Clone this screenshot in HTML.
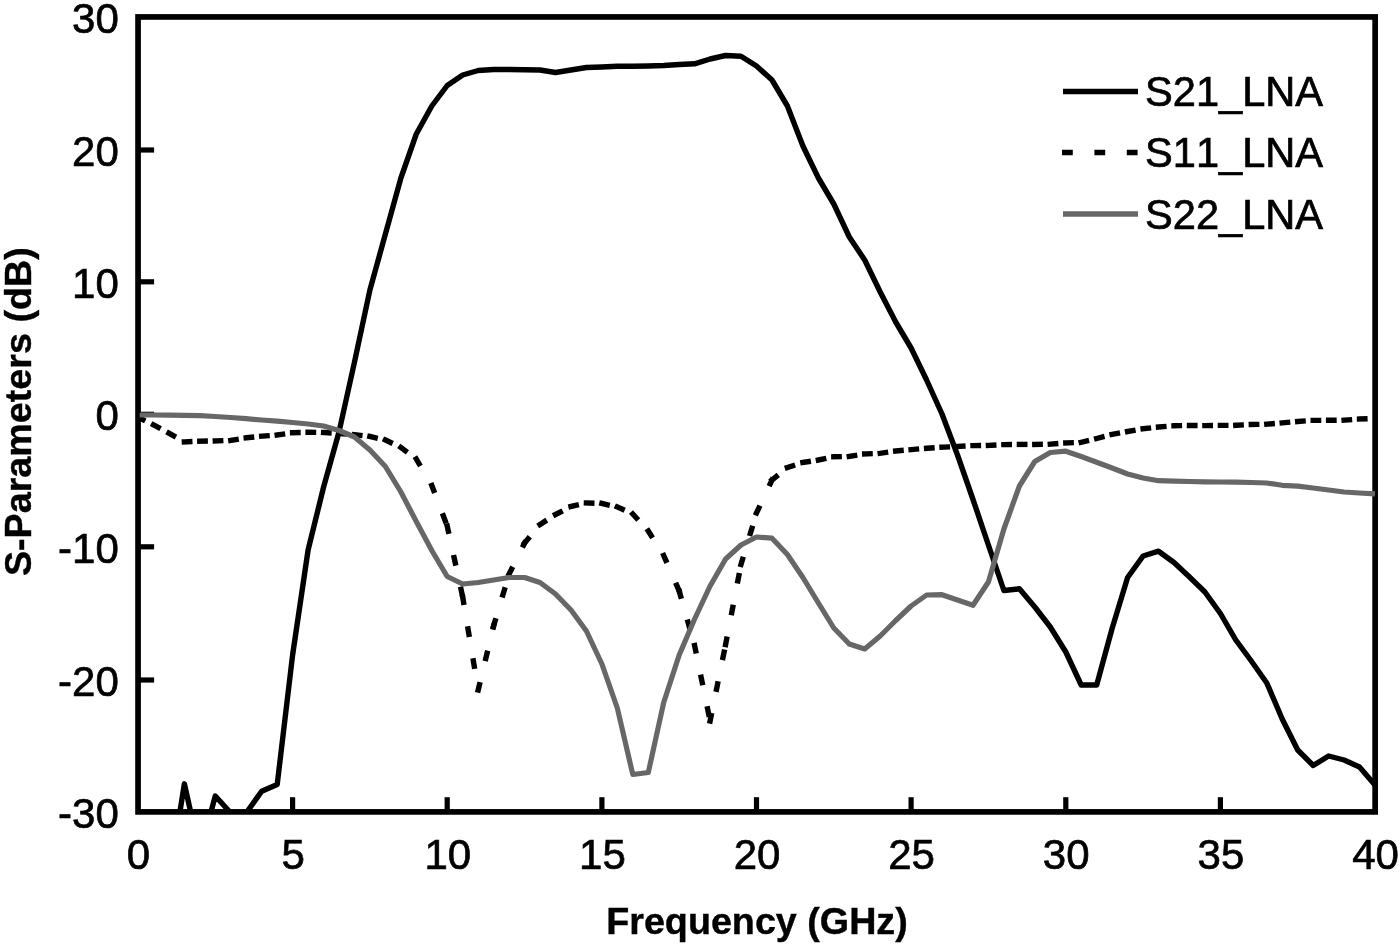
<!DOCTYPE html>
<html><head><meta charset="utf-8"><title>S-Parameters</title>
<style>html,body{margin:0;padding:0;background:#fff}svg{display:block}text{font-family:"Liberation Sans",Arial,sans-serif;fill:#000;font-kerning:none}</style></head><body>
<svg width="1400" height="946" viewBox="0 0 1400 946">
<rect width="1400" height="946" fill="#fff"/>
<defs><clipPath id="plot"><rect x="139.7" y="17" width="1236.5" height="794.5"/></clipPath></defs>
<rect x="138.05" y="16.95" width="1237.1" height="794.95" fill="none" stroke="#000" stroke-width="5.7"/>
<g stroke="#000" stroke-width="5.2">
<line x1="292.6" y1="811.5" x2="292.6" y2="797.2"/>
<line x1="447.2" y1="811.5" x2="447.2" y2="797.2"/>
<line x1="601.9" y1="811.5" x2="601.9" y2="797.2"/>
<line x1="756.5" y1="811.5" x2="756.5" y2="797.2"/>
<line x1="911.1" y1="811.5" x2="911.1" y2="797.2"/>
<line x1="1065.8" y1="811.5" x2="1065.8" y2="797.2"/>
<line x1="1220.4" y1="811.5" x2="1220.4" y2="797.2"/>
<line x1="138.0" y1="150.0" x2="154.1" y2="150.0"/>
<line x1="138.0" y1="281.8" x2="154.1" y2="281.8"/>
<line x1="138.0" y1="414.3" x2="154.1" y2="414.3"/>
<line x1="138.0" y1="546.8" x2="154.1" y2="546.8"/>
<line x1="138.0" y1="680.0" x2="154.1" y2="680.0"/>
</g>
<g clip-path="url(#plot)" fill="none" stroke-linejoin="round">
<polyline points="138.0,900.0 153.5,900.0 168.9,881.0 184.4,783.8 199.8,853.0 215.3,796.0 230.8,813.0 246.2,813.0 261.7,791.2 277.2,784.5 292.6,655.0 308.1,550.0 323.6,487.0 339.0,432.0 354.5,362.0 369.9,290.0 385.4,234.0 400.9,178.0 416.3,134.0 431.8,106.0 447.2,85.5 462.7,75.0 478.2,70.5 493.6,69.5 509.1,69.5 524.6,69.8 540.0,70.0 555.5,72.5 571.0,70.0 586.4,67.5 601.9,67.0 617.3,66.2 632.8,66.2 648.3,66.0 663.7,65.5 679.2,64.5 694.6,63.8 710.1,59.0 725.6,55.5 741.0,56.2 756.5,66.0 772.0,80.0 787.4,106.0 802.9,146.0 818.4,178.0 833.8,204.0 849.3,237.0 864.7,260.0 880.2,292.0 895.7,322.0 911.1,348.0 926.6,380.0 942.0,414.0 957.5,455.0 973.0,499.5 988.4,545.0 1003.9,590.5 1019.4,588.8 1034.8,607.0 1050.3,627.0 1065.8,652.0 1081.2,685.0 1096.7,685.0 1112.1,628.5 1127.6,577.5 1143.1,556.0 1158.5,551.2 1174.0,562.5 1189.5,577.0 1204.9,592.0 1220.4,613.5 1235.8,640.0 1251.3,661.0 1266.8,683.0 1282.2,719.0 1297.7,750.0 1313.2,765.5 1328.6,756.0 1344.1,760.0 1359.5,767.0 1375.0,785.0" stroke="#000" stroke-width="5.4"/>
<g stroke="#000" stroke-width="5.4" stroke-dasharray="5.4 27" stroke-linecap="square">
<path d="M138.0 417.3L153.5 424.8"/>
<path d="M153.5 424.8L168.9 433.2"/>
<path d="M168.9 433.2L184.4 441.9"/>
<path d="M184.4 441.9L199.8 441.2"/>
<path d="M199.8 441.2L215.3 440.9"/>
<path d="M215.3 440.9L230.8 440.4"/>
<path d="M230.8 440.4L246.2 437.8"/>
<path d="M246.2 437.8L261.7 436.2"/>
<path d="M261.7 436.2L277.2 435.0"/>
<path d="M277.2 435.0L292.6 432.7"/>
<path d="M292.6 432.7L308.1 432.3"/>
<path d="M308.1 432.3L323.6 432.5"/>
<path d="M323.6 432.5L339.0 433.5"/>
<path d="M339.0 433.5L354.5 434.8"/>
<path d="M354.5 434.8L369.9 436.5"/>
<path d="M369.9 436.5L385.4 440.0"/>
<path d="M385.4 440.0L400.9 447.5"/>
<path d="M400.9 447.5L416.3 459.0"/>
<path d="M416.3 459.0L431.8 485.5"/>
<path d="M431.8 485.5L447.2 526.0"/>
<path d="M447.2 526.0L462.7 597.0"/>
<path d="M462.7 597.0L478.2 690.0"/>
<path d="M478.2 690.0L493.6 626.0"/>
<path d="M493.6 626.0L509.1 574.0"/>
<path d="M509.1 574.0L524.6 543.0"/>
<path d="M524.6 543.0L540.0 524.5"/>
<path d="M540.0 524.5L555.5 514.5"/>
<path d="M555.5 514.5L571.0 506.5"/>
<path d="M571.0 506.5L586.4 503.0"/>
<path d="M586.4 503.0L601.9 503.5"/>
<path d="M601.9 503.5L617.3 507.0"/>
<path d="M617.3 507.0L632.8 514.0"/>
<path d="M632.8 514.0L648.3 531.0"/>
<path d="M648.3 531.0L663.7 555.5"/>
<path d="M663.7 555.5L679.2 591.0"/>
<path d="M679.2 591.0L694.6 645.5"/>
<path d="M694.6 645.5L710.1 721.0"/>
<path d="M710.1 721.0L725.6 644.5"/>
<path d="M725.6 644.5L741.0 564.5"/>
<path d="M741.0 564.5L756.5 513.0"/>
<path d="M756.5 513.0L772.0 480.0"/>
<path d="M772.0 480.0L787.4 467.5"/>
<path d="M787.4 467.5L802.9 462.5"/>
<path d="M802.9 462.5L818.4 460.0"/>
<path d="M818.4 460.0L833.8 456.8"/>
<path d="M833.8 456.8L849.3 456.4"/>
<path d="M849.3 456.4L864.7 453.9"/>
<path d="M864.7 453.9L880.2 453.3"/>
<path d="M880.2 453.3L895.7 451.0"/>
<path d="M895.7 451.0L911.1 449.6"/>
<path d="M911.1 449.6L926.6 448.3"/>
<path d="M926.6 448.3L942.0 447.2"/>
<path d="M942.0 447.2L957.5 446.5"/>
<path d="M957.5 446.5L973.0 445.6"/>
<path d="M973.0 445.6L988.4 445.4"/>
<path d="M988.4 445.4L1003.9 444.6"/>
<path d="M1003.9 444.6L1019.4 444.4"/>
<path d="M1019.4 444.4L1034.8 444.4"/>
<path d="M1034.8 444.4L1050.3 444.2"/>
<path d="M1050.3 444.2L1065.8 442.9"/>
<path d="M1065.8 442.9L1081.2 442.3"/>
<path d="M1081.2 442.3L1096.7 438.5"/>
<path d="M1096.7 438.5L1112.1 434.4"/>
<path d="M1112.1 434.4L1127.6 431.5"/>
<path d="M1127.6 431.5L1143.1 428.7"/>
<path d="M1143.1 428.7L1158.5 427.0"/>
<path d="M1158.5 427.0L1174.0 425.8"/>
<path d="M1174.0 425.8L1189.5 425.5"/>
<path d="M1189.5 425.5L1204.9 425.6"/>
<path d="M1204.9 425.6L1220.4 425.4"/>
<path d="M1220.4 425.4L1235.8 425.3"/>
<path d="M1235.8 425.3L1251.3 424.5"/>
<path d="M1251.3 424.5L1266.8 424.2"/>
<path d="M1266.8 424.2L1282.2 422.9"/>
<path d="M1282.2 422.9L1297.7 421.5"/>
<path d="M1297.7 421.5L1313.2 420.4"/>
<path d="M1313.2 420.4L1328.6 420.3"/>
<path d="M1328.6 420.3L1344.1 420.2"/>
<path d="M1344.1 420.2L1359.5 419.0"/>
<path d="M1359.5 419.0L1375.0 418.4"/>
</g>
<polyline points="138.0,415.0 153.5,415.0 168.9,415.2 184.4,415.4 199.8,415.7 215.3,416.5 230.8,417.5 246.2,418.7 261.7,420.0 277.2,421.2 292.6,422.5 308.1,424.0 323.6,426.0 339.0,430.5 354.5,437.0 369.9,450.0 385.4,466.5 400.9,492.0 416.3,521.5 431.8,550.5 447.2,576.5 462.7,584.0 478.2,582.5 493.6,580.0 509.1,577.5 524.6,577.5 540.0,582.5 555.5,594.0 571.0,610.0 586.4,631.0 601.9,664.0 617.3,708.0 632.8,774.5 648.3,772.5 663.7,702.5 679.2,655.0 694.6,619.0 710.1,586.0 725.6,559.0 741.0,545.0 756.5,537.0 772.0,538.2 787.4,554.5 802.9,577.5 818.4,603.0 833.8,628.0 849.3,644.0 864.7,649.0 880.2,636.0 895.7,620.5 911.1,606.0 926.6,595.0 942.0,594.7 957.5,600.0 973.0,605.3 988.4,582.0 1003.9,529.0 1019.4,486.0 1034.8,461.5 1050.3,452.5 1065.8,451.2 1081.2,456.5 1096.7,462.2 1112.1,468.0 1127.6,474.0 1143.1,478.0 1158.5,480.7 1174.0,481.2 1189.5,481.5 1204.9,481.8 1220.4,482.0 1235.8,482.2 1251.3,482.5 1266.8,483.0 1282.2,485.3 1297.7,486.2 1313.2,488.0 1328.6,490.0 1344.1,492.0 1359.5,493.0 1375.0,493.8" stroke="#676767" stroke-width="5.2"/>
</g>
<g font-size="42" stroke="#000" stroke-width="0.7">
<text x="118.8" y="33.0" text-anchor="end">30</text>
<text x="118.8" y="166.0" text-anchor="end">20</text>
<text x="118.8" y="297.8" text-anchor="end">10</text>
<text x="118.8" y="430.3" text-anchor="end">0</text>
<text x="118.8" y="562.8" text-anchor="end">-10</text>
<text x="118.8" y="696.0" text-anchor="end">-20</text>
<text x="118.8" y="827.5" text-anchor="end">-30</text>
<text x="138.5" y="869.3" text-anchor="middle">0</text>
<text x="293.1" y="869.3" text-anchor="middle">5</text>
<text x="447.8" y="869.3" text-anchor="middle">10</text>
<text x="602.4" y="869.3" text-anchor="middle">15</text>
<text x="757.0" y="869.3" text-anchor="middle">20</text>
<text x="911.6" y="869.3" text-anchor="middle">25</text>
<text x="1066.2" y="869.3" text-anchor="middle">30</text>
<text x="1220.9" y="869.3" text-anchor="middle">35</text>
<text x="1375.5" y="869.3" text-anchor="middle">40</text>
</g>
<text x="757" y="933.5" text-anchor="middle" font-size="37.7" font-weight="bold" stroke="#000" stroke-width="0.4">Frequency (GHz)</text>
<text transform="translate(31,411.7) rotate(-90)" text-anchor="middle" font-size="37.7" font-weight="bold" stroke="#000" stroke-width="0.4">S-Parameters (dB)</text>
<line x1="1063" y1="91.5" x2="1138" y2="91.5" stroke="#000" stroke-width="5.4"/>
<line x1="1064.7" y1="152.5" x2="1138" y2="152.5" stroke="#000" stroke-width="5.4" stroke-dasharray="5.4 27" stroke-linecap="square"/>
<line x1="1063" y1="214" x2="1138" y2="214" stroke="#676767" stroke-width="5.3"/>
<g font-size="41.6" stroke="#000" stroke-width="0.7">
<text x="1145" y="105.5">S21_LNA</text>
<text x="1145" y="167">S11_LNA</text>
<text x="1145" y="228.5">S22_LNA</text>
</g>
</svg></body></html>
